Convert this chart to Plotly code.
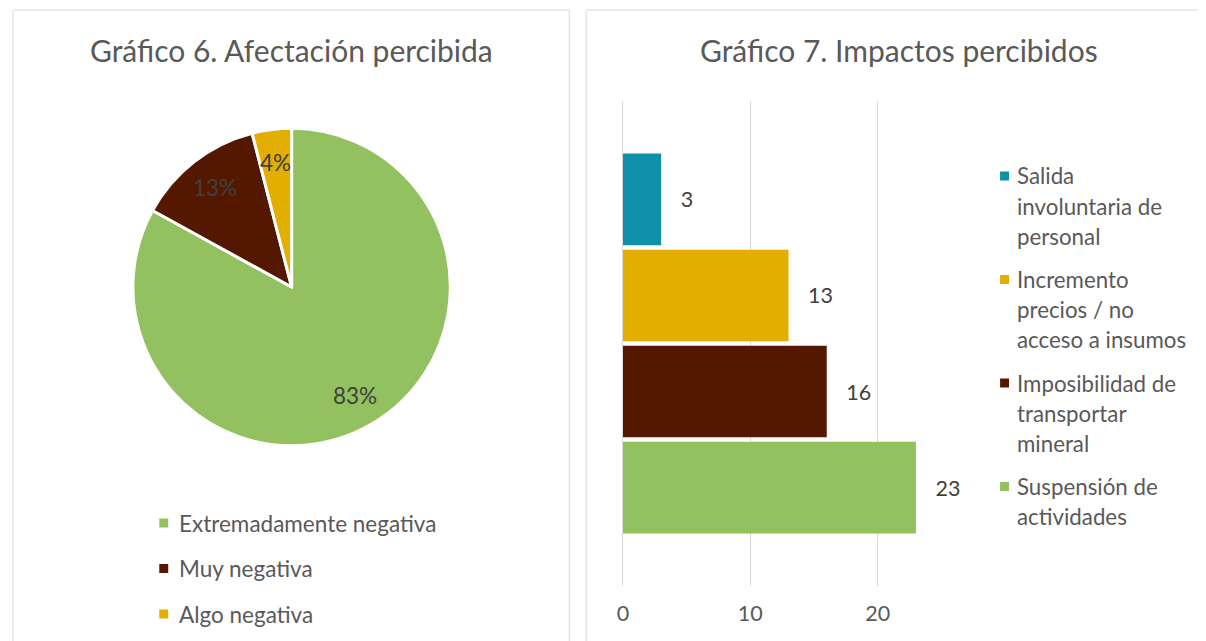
import math
import textwrap
import plotly.graph_objects as go

W, H = 1206, 641
OX, OY = 10, 8  # page offset compensation

# ---- data ----
pie_labels = ["Extremadamente negativa", "Muy negativa", "Algo negativa"]
pie_values = [83, 13, 4]
pie_colors = ["#93C15F", "#541800", "#E3AE00"]

bar_names = ["Salida involuntaria de personal",
             "Incremento precios / no acceso a insumos",
             "Imposibilidad de transportar mineral",
             "Suspensión de actividades"]
bar_values = [3, 13, 16, 23]
bar_colors = ["#0E8FAA", "#E3AE00", "#541800", "#93C15F"]
x_ticks = [0, 10, 20]

FONT = "Lato"
TXT = "#595959"


def fx(x):
    return (x - OX) / W


def fy(y):
    return 1 - (y - OY) / H


fig = go.Figure()

# ---- pie ----
cx, cy, r = 289, 287, 157
rd = r + 2.5  # plotly draws the pie slightly inside its domain
fig.add_trace(go.Pie(
    labels=pie_labels, values=pie_values, sort=False, direction="clockwise",
    marker=dict(colors=pie_colors, line=dict(color="white", width=3)),
    textinfo="none", hoverinfo="label+percent", showlegend=False,
    domain=dict(x=[fx(cx - rd), fx(cx + rd)], y=[fy(cy + rd), fy(cy - rd)]),
))

annotations = []
shapes = []

total = sum(pie_values)
cum = 0
for v in pie_values:
    mid = (cum + v / 2) / total
    cum += v
    th = 2 * math.pi * mid
    lx = cx + 0.8 * r * math.sin(th)
    ly = cy - 0.8 * r * math.cos(th)
    annotations.append(dict(x=fx(lx), y=fy(ly), xref="paper", yref="paper",
                            xanchor="center", yanchor="middle",
                            text=f"{round(100 * v / total)}%", showarrow=False,
                            font=dict(family=FONT, size=22.5, color="#404040")))

# pie legend
for i, (lab, col) in enumerate(zip(pie_labels, pie_colors)):
    yy = 523 + 45.5 * i
    shapes.append(dict(type="rect", xref="paper", yref="paper",
                       x0=fx(156), x1=fx(165), y0=fy(yy + 4.5), y1=fy(yy - 4.5),
                       fillcolor=col, line=dict(width=0)))
    annotations.append(dict(x=fx(174), y=fy(yy), xref="paper", yref="paper",
                            xanchor="left", yanchor="middle", text=lab, showarrow=False,
                            font=dict(family=FONT, size=22.5, color=TXT)))

# ---- bars ----
for name, val, col in reversed(list(zip(bar_names, bar_values, bar_colors))):
    fig.add_trace(go.Bar(
        x=[val], y=[0], orientation="h", name=name, marker=dict(color=col, line=dict(width=0)),
        text=[val], texttemplate="   %{x}", textposition="outside", cliponaxis=False,
        textfont=dict(family=FONT, size=21.5, color="#404040"),
        xaxis="x", yaxis="y", showlegend=False,
    ))

# bar legend
start = 176
for name, col in zip(bar_names, bar_colors):
    lines = textwrap.wrap(name, 16)
    shapes.append(dict(type="rect", xref="paper", yref="paper",
                       x0=fx(1001), x1=fx(1010), y0=fy(start + 4.5), y1=fy(start - 4.5),
                       fillcolor=col, line=dict(width=0)))
    for j, ln in enumerate(lines):
        annotations.append(dict(x=fx(1016), y=fy(start + 30 * j), xref="paper", yref="paper",
                                xanchor="left", yanchor="middle", text=ln, showarrow=False,
                                font=dict(family=FONT, size=22.3, color=TXT)))
    start += 30 * len(lines) + 13.5

# titles
annotations.append(dict(x=fx(289), y=fy(50), xref="paper", yref="paper", xanchor="center", yanchor="middle",
                        text="Gráfico 6. Afectación percibida",
                        showarrow=False, font=dict(family=FONT, size=30, color=TXT)))
annotations.append(dict(x=fx(899), y=fy(50), xref="paper", yref="paper", xanchor="center", yanchor="middle",
                        text="Gráfico 7. Impactos percibidos",
                        showarrow=False, font=dict(family=FONT, size=30, color=TXT)))

# panel borders
shapes.append(dict(type="rect", xref="paper", yref="paper", x0=fx(9), x1=fx(568), y0=fy(700), y1=fy(10),
                   line=dict(color="#D9D9D9", width=1), layer="below"))
shapes.append(dict(type="rect", xref="paper", yref="paper", x0=fx(585), x1=fx(1260), y0=fy(700), y1=fy(10),
                   line=dict(color="#D9D9D9", width=1), layer="below"))

fig.update_layout(
    width=W, height=H, margin=dict(l=0, r=0, t=0, b=0),
    paper_bgcolor="white", plot_bgcolor="white",
    barmode="group", bargap=0.208, bargroupgap=0.045,
    xaxis=dict(domain=[fx(622), fx(942)], range=[0, 25], tickvals=x_ticks,
               showgrid=True, gridcolor="#D9D9D9", gridwidth=1,
               zeroline=True, zerolinecolor="#D9D9D9", zerolinewidth=1,
               showline=False, ticks="", ticklabelstandoff=12,
               tickfont=dict(family=FONT, size=21.5, color=TXT), anchor="y"),
    yaxis=dict(domain=[fy(586), fy(101)], range=[-0.5, 0.5], showgrid=False, zeroline=False,
               showticklabels=False, ticks="", anchor="x"),
    annotations=annotations, shapes=shapes, showlegend=False,
)

fig.write_html("out.html")
